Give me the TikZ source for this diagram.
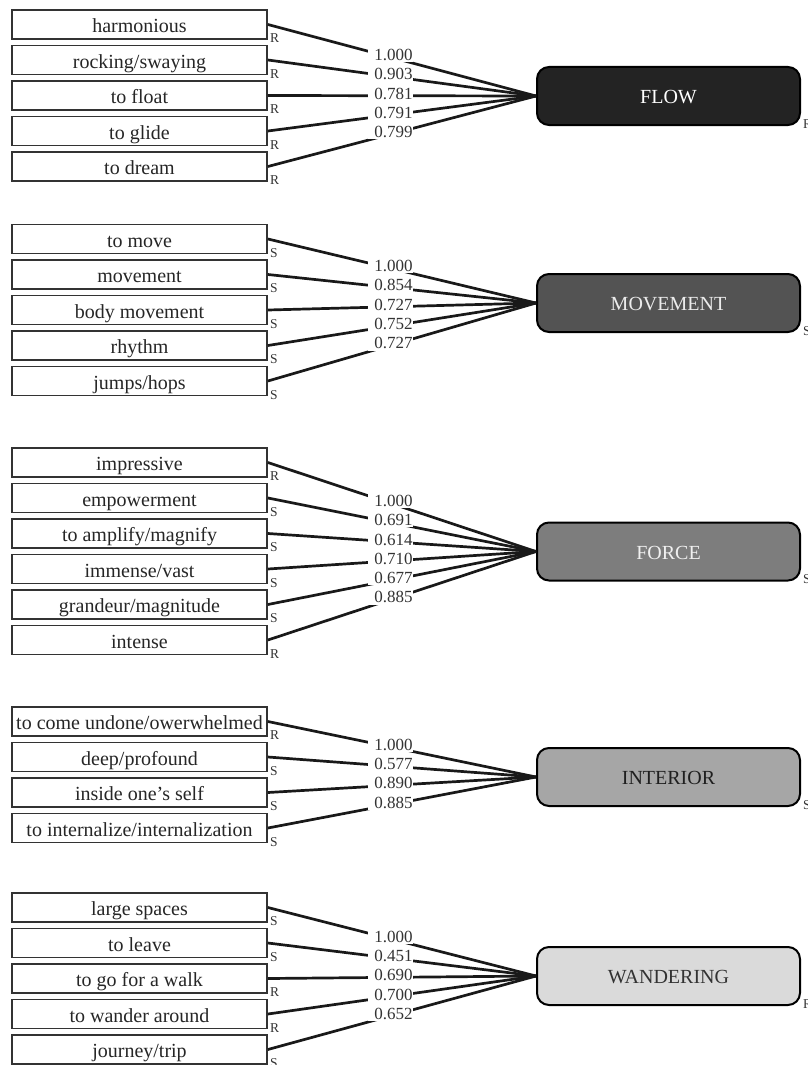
\documentclass[tikz,border=0pt]{standalone}
\usepackage{fontspec}
\setmainfont{Liberation Serif}
\definecolor{cflow}{HTML}{232323}
\definecolor{cmove}{HTML}{535353}
\definecolor{cforce}{HTML}{7D7D7D}
\definecolor{cinter}{HTML}{A6A6A6}
\definecolor{cwander}{HTML}{DADADA}
\begin{document}
\begin{tikzpicture}[x=1pt,y=-1pt,
 item/.style={draw=black!80, line width=1.8pt, fill=white, minimum width=255pt, minimum height=29pt, inner sep=0pt, font=\fontsize{20}{22}\selectfont, text=black!85, text height=16pt, text depth=0pt},
 factor/.style={draw=black, line width=2pt, rounded corners=12pt, minimum width=263pt, minimum height=58pt, inner sep=0pt, font=\fontsize{20}{22}\selectfont, text height=15pt, text depth=0pt},
 conn/.style={line width=2.7pt, black!90},
 lbl/.style={fill=white, inner xsep=0pt, inner ysep=1.5pt, text width=45pt, align=right, font=\fontsize{17}{19}\selectfont, text=black!80, anchor=base, pos=0.4556, yshift=-3.3pt},
 err/.style={font=\fontsize{13.5}{15}\selectfont, text=black!80, inner sep=0pt, anchor=base west, xshift=2pt, yshift=-3pt},
 ferr/.style={font=\fontsize{13.5}{15}\selectfont, text=black!80, inner sep=0pt, anchor=base west, xshift=2pt, yshift=-2pt}
]
\useasboundingbox (0,0) rectangle (808,1065);

% ---------- FLOW ----------
\node[factor, fill=cflow, text=white] (F1) at (668.5,96) {FLOW};
\node[item] (a1) at (139.5,24.5) {harmonious};
\node[item] (a2) at (139.5,60) {rocking/swaying};
\node[item] (a3) at (139.5,95.5) {to float};
\node[item] (a4) at (139.5,131) {to glide};
\node[item] (a5) at (139.5,166.5) {to dream};
\draw[conn] (a1.east) -- node[lbl] {1.000} (F1.west);
\draw[conn] (a2.east) -- node[lbl] {0.903} (F1.west);
\draw[conn] (a3.east) -- node[lbl] {0.781} (F1.west);
\draw[conn] (a4.east) -- node[lbl] {0.791} (F1.west);
\draw[conn] (a5.east) -- node[lbl] {0.799} (F1.west);
\node[err] (ea1) at (a1.south east) {R};
\node[err] (ea2) at (a2.south east) {R};
\node[err] (ea3) at (a3.south east) {R};
\node[err] (ea4) at (a4.south east) {R};
\node[err] (ea5) at (a5.south east) {R};
\node[ferr] (eF1) at (F1.south east) {R};

% ---------- MOVEMENT ----------
\node[factor, fill=cmove, text=black!8] (F2) at (668.5,303) {MOVEMENT};
\node[item] (b1) at (139.5,239) {to move};
\node[item] (b2) at (139.5,274.5) {movement};
\node[item] (b3) at (139.5,310) {body movement};
\node[item] (b4) at (139.5,345.5) {rhythm};
\node[item] (b5) at (139.5,381) {jumps/hops};
\draw[conn] (b1.east) -- node[lbl] {1.000} (F2.west);
\draw[conn] (b2.east) -- node[lbl] {0.854} (F2.west);
\draw[conn] (b3.east) -- node[lbl] {0.727} (F2.west);
\draw[conn] (b4.east) -- node[lbl] {0.752} (F2.west);
\draw[conn] (b5.east) -- node[lbl] {0.727} (F2.west);
\node[err] (eb1) at (b1.south east) {S};
\node[err] (eb2) at (b2.south east) {S};
\node[err] (eb3) at (b3.south east) {S};
\node[err] (eb4) at (b4.south east) {S};
\node[err] (eb5) at (b5.south east) {S};
\node[ferr] (eF2) at (F2.south east) {S};

% ---------- FORCE ----------
\node[factor, fill=cforce, text=black!6] (F3) at (668.5,551.5) {FORCE};
\node[item] (c1) at (139.5,462.5) {impressive};
\node[item] (c2) at (139.5,498) {empowerment};
\node[item] (c3) at (139.5,533.5) {to amplify/magnify};
\node[item] (c4) at (139.5,569) {immense/vast};
\node[item] (c5) at (139.5,604.5) {grandeur/magnitude};
\node[item] (c6) at (139.5,640) {intense};
\draw[conn] (c1.east) -- node[lbl] {1.000} (F3.west);
\draw[conn] (c2.east) -- node[lbl] {0.691} (F3.west);
\draw[conn] (c3.east) -- node[lbl] {0.614} (F3.west);
\draw[conn] (c4.east) -- node[lbl] {0.710} (F3.west);
\draw[conn] (c5.east) -- node[lbl] {0.677} (F3.west);
\draw[conn] (c6.east) -- node[lbl] {0.885} (F3.west);
\node[err] (ec1) at (c1.south east) {R};
\node[err] (ec2) at (c2.south east) {S};
\node[err] (ec3) at (c3.south east) {S};
\node[err] (ec4) at (c4.south east) {S};
\node[err] (ec5) at (c5.south east) {S};
\node[err] (ec6) at (c6.south east) {R};
\node[ferr] (eF3) at (F3.south east) {S};

% ---------- INTERIOR ----------
\node[factor, fill=cinter, text=black!88] (F4) at (668.5,777) {INTERIOR};
\node[item] (d1) at (139.5,721.5) {to come undone/owerwhelmed};
\node[item] (d2) at (139.5,757) {deep/profound};
\node[item] (d3) at (139.5,792.5) {inside one’s self};
\node[item] (d4) at (139.5,828) {to internalize/internalization};
\draw[conn] (d1.east) -- node[lbl] {1.000} (F4.west);
\draw[conn] (d2.east) -- node[lbl] {0.577} (F4.west);
\draw[conn] (d3.east) -- node[lbl] {0.890} (F4.west);
\draw[conn] (d4.east) -- node[lbl] {0.885} (F4.west);
\node[err] (ed1) at (d1.south east) {R};
\node[err] (ed2) at (d2.south east) {S};
\node[err] (ed3) at (d3.south east) {S};
\node[err] (ed4) at (d4.south east) {S};
\node[ferr] (eF4) at (F4.south east) {S};

% ---------- WANDERING ----------
\node[factor, fill=cwander, text=black!80] (F5) at (668.5,976) {WANDERING};
\node[item] (e1) at (139.5,907.5) {large spaces};
\node[item] (e2) at (139.5,943) {to leave};
\node[item] (e3) at (139.5,978.5) {to go for a walk};
\node[item] (e4) at (139.5,1014) {to wander around};
\node[item] (e5) at (139.5,1049.5) {journey/trip};
\draw[conn] (e1.east) -- node[lbl] {1.000} (F5.west);
\draw[conn] (e2.east) -- node[lbl] {0.451} (F5.west);
\draw[conn] (e3.east) -- node[lbl] {0.690} (F5.west);
\draw[conn] (e4.east) -- node[lbl] {0.700} (F5.west);
\draw[conn] (e5.east) -- node[lbl] {0.652} (F5.west);
\node[err] (ee1) at (e1.south east) {S};
\node[err] (ee2) at (e2.south east) {S};
\node[err] (ee3) at (e3.south east) {R};
\node[err] (ee4) at (e4.south east) {R};
\node[err] (ee5) at (e5.south east) {S};
\node[ferr] (eF5) at (F5.south east) {R};
\end{tikzpicture}
\end{document}
